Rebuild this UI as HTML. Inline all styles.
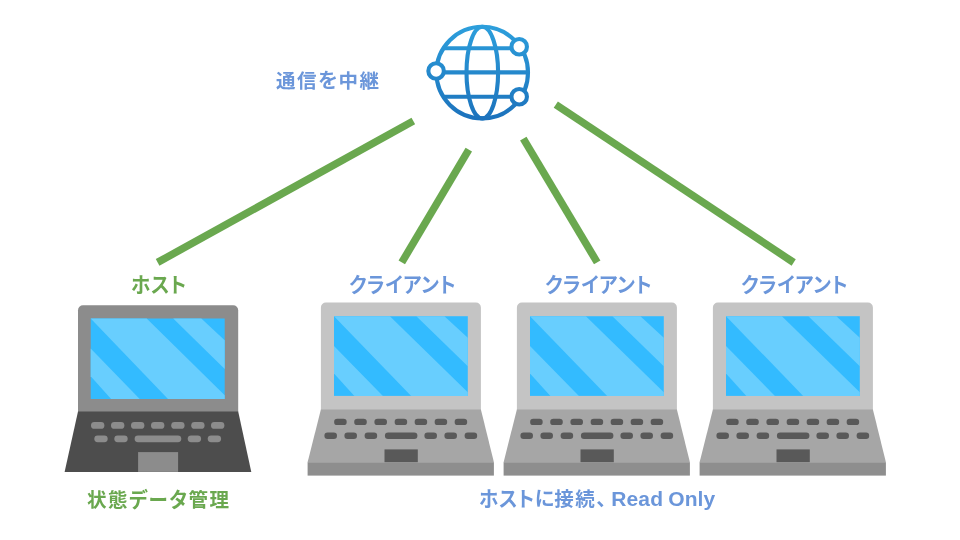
<!DOCTYPE html>
<html lang="ja">
<head>
<meta charset="utf-8">
<title>通信を中継</title>
<style>
html,body{margin:0;padding:0;background:#fff;}
body{width:960px;height:540px;overflow:hidden;position:relative;font-family:"Liberation Sans","Noto Sans CJK JP",sans-serif;}
svg{position:absolute;left:0;top:0;}
.t{position:absolute;white-space:nowrap;will-change:transform;font-weight:bold;font-size:19.5px;line-height:24px;}
.j{letter-spacing:1.5px;}
.h{font-size:20px;font-weight:700;letter-spacing:0.5px;}
.k{font-size:19.5px;font-weight:700;font-feature-settings:"palt";letter-spacing:0.5px;display:inline-block;transform:scaleY(1.07);transform-origin:50% 60%;}
.l{font-size:21px;letter-spacing:0.15px;word-spacing:-1px;margin-left:1px;}
.g{color:#6aa84f;}
.b{color:#6b96da;}
</style>
</head>
<body>
<svg width="960" height="540" viewBox="0 0 960 540">
  <defs>
    <linearGradient id="gg" gradientUnits="userSpaceOnUse" x1="0" y1="25" x2="0" y2="120">
      <stop offset="0" stop-color="#2d9fdc"/>
      <stop offset="1" stop-color="#1c72bc"/>
    </linearGradient>
    <g id="screen">
      <rect x="0" y="0" width="134" height="80.5" fill="#33bbff"/>
      <g fill="#68cefe">
        <polygon points="0,30 0,57.8 20.4,80.5 49,80.5"/>
        <polygon points="0,0 56,0 134,76.7 134,80.5 77.3,80.5"/>
        <polygon points="82.5,0 110.6,0 134,21.8 134,50.5"/>
      </g>
    </g>
  </defs>
  <!-- lines -->
  <g stroke="#6aa84f" stroke-width="7.5" fill="none">
    <line x1="413.3" y1="121" x2="157.6" y2="262.4"/>
    <line x1="468.8" y1="149.6" x2="401.8" y2="262.4"/>
    <line x1="523.3" y1="138.6" x2="597.2" y2="262.4"/>
    <line x1="555.8" y1="104.7" x2="793.7" y2="262.5"/>
  </g>
  <!-- globe -->
  <g fill="none" stroke="url(#gg)" stroke-width="4.1">
    <circle cx="482.2" cy="72.6" r="45.8"/>
    <ellipse cx="482.3" cy="72.6" rx="15.8" ry="45.8"/>
    <line x1="444" y1="48.2" x2="521" y2="48.2"/>
    <line x1="437" y1="72.4" x2="528" y2="72.4"/>
    <line x1="444" y1="96.7" x2="521" y2="96.7"/>
    <circle cx="436.1" cy="71" r="7.75" fill="#fff"/>
    <circle cx="519.2" cy="46.7" r="7.75" fill="#fff"/>
    <circle cx="519.2" cy="96.7" r="7.75" fill="#fff"/>
  </g>
  <!-- host laptop -->
  <g>
    <path d="M83,305.3 H233.2 a5,5 0 0 1 5,5 V412 H78 V310.3 a5,5 0 0 1 5,-5 Z" fill="#8c8c8c"/>
    <use href="#screen" x="90.7" y="318.5"/>
    <polygon points="78,411.5 238.2,411.5 251.3,471.9 64.6,471.9" fill="#4d4d4d"/>
    <g fill="#8c8c8c">
      <rect x="91" y="422" width="13.4" height="6.8" rx="3.4"/>
      <rect x="111" y="422" width="13.4" height="6.8" rx="3.4"/>
      <rect x="131" y="422" width="13.4" height="6.8" rx="3.4"/>
      <rect x="151" y="422" width="13.4" height="6.8" rx="3.4"/>
      <rect x="171.2" y="422" width="13.4" height="6.8" rx="3.4"/>
      <rect x="191.2" y="422" width="13.4" height="6.8" rx="3.4"/>
      <rect x="211" y="422" width="13.4" height="6.8" rx="3.4"/>
      <rect x="94.3" y="435.4" width="13.4" height="6.8" rx="3.4"/>
      <rect x="114.3" y="435.4" width="13.4" height="6.8" rx="3.4"/>
      <rect x="134.6" y="435.4" width="46.7" height="6.8" rx="3.4"/>
      <rect x="187.7" y="435.4" width="13.4" height="6.8" rx="3.4"/>
      <rect x="207.7" y="435.4" width="13.4" height="6.8" rx="3.4"/>
      <rect x="138.1" y="452.1" width="40" height="19.8"/>
    </g>
  </g>
  <!-- client laptop template -->
  <defs>
    <g id="client">
      <path d="M5,0.4 H155 a5,5 0 0 1 5,5 V108 H0 V5.4 a5,5 0 0 1 5,-5 Z" fill="#c4c4c4"/>
      <use href="#screen" transform="translate(13.1,14) scale(0.9985,0.99)"/>
      <polygon points="0,107.3 160,107.3 173,160 -13.3,160" fill="#a6a6a6"/>
      <rect x="-13.3" y="160" width="186.3" height="13.4" fill="#8e8e8e"/>
      <g fill="#595959">
        <rect x="13.2" y="116.5" width="12.6" height="6.4" rx="3.2"/>
        <rect x="33.3" y="116.5" width="12.6" height="6.4" rx="3.2"/>
        <rect x="53.5" y="116.5" width="12.6" height="6.4" rx="3.2"/>
        <rect x="73.7" y="116.5" width="12.6" height="6.4" rx="3.2"/>
        <rect x="93.7" y="116.5" width="12.6" height="6.4" rx="3.2"/>
        <rect x="113.7" y="116.5" width="12.6" height="6.4" rx="3.2"/>
        <rect x="133.7" y="116.5" width="12.6" height="6.4" rx="3.2"/>
        <rect x="3.5" y="130.4" width="12.6" height="6.4" rx="3.2"/>
        <rect x="23.5" y="130.4" width="12.6" height="6.4" rx="3.2"/>
        <rect x="43.7" y="130.4" width="12.6" height="6.4" rx="3.2"/>
        <rect x="64" y="130.4" width="32.5" height="6.4" rx="3.2"/>
        <rect x="103.5" y="130.4" width="12.6" height="6.4" rx="3.2"/>
        <rect x="123.5" y="130.4" width="12.6" height="6.4" rx="3.2"/>
        <rect x="143.7" y="130.4" width="12.6" height="6.4" rx="3.2"/>
        <rect x="63.6" y="147.2" width="33.3" height="12.8"/>
      </g>
    </g>
  </defs>
  <use href="#client" x="320.9" y="302.2"/>
  <use href="#client" x="516.9" y="302.2"/>
  <use href="#client" x="712.9" y="302.2"/>
</svg>
<div class="t b" style="left:276px;top:69px;"><span class="j">通信</span><span class="h">を</span><span class="j">中継</span></div>
<div class="t g" style="left:131px;top:273.4px;"><span class="k">ホスト</span></div>
<div class="t b" style="left:349px;top:273.4px;"><span class="k">クライアント</span></div>
<div class="t b" style="left:545px;top:273.4px;"><span class="k">クライアント</span></div>
<div class="t b" style="left:741px;top:273.4px;"><span class="k">クライアント</span></div>
<div class="t g" style="left:87px;top:487.5px;"><span class="j">状態</span><span class="k" style="letter-spacing:1.5px">データ</span><span class="j">管理</span></div>
<div class="t b" style="left:479px;top:487px;"><span class="k">ホスト</span><span class="h" style="letter-spacing:-0.5px">に</span><span class="j">接続</span><span class="h" style="letter-spacing:-6px">、</span><span class="l">Read Only</span></div>
</body>
</html>
